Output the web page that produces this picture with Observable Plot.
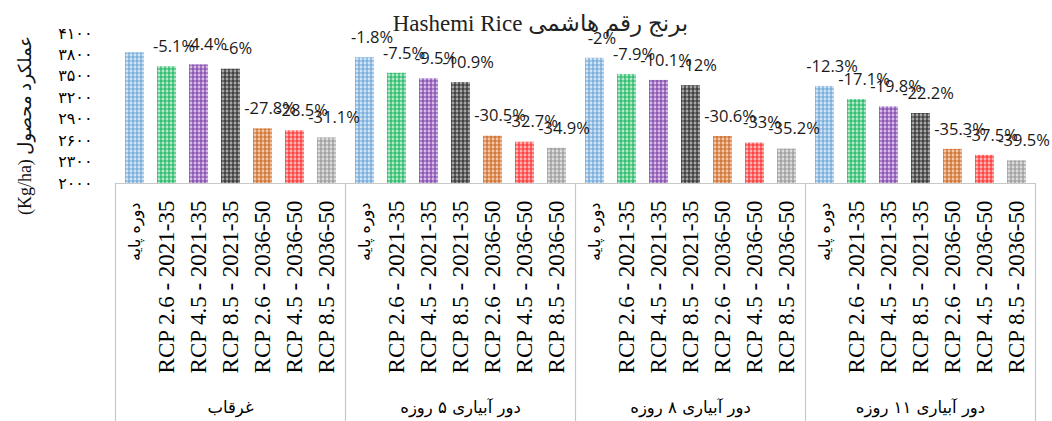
<!DOCTYPE html>
<html>
<head>
<meta charset="utf-8">
<script src="https://cdn.jsdelivr.net/npm/d3@7"></script>
<script src="https://cdn.jsdelivr.net/npm/@observablehq/plot@0.6"></script>
<style>
  html, body { margin: 0; padding: 0; background: #fff; }
  #chart { width: 1052px; height: 421px; overflow: hidden; }
</style>
</head>
<body>
<div id="chart"></div>
<script>
// ---- data ----
const groups = ["غرقاب", "دور آبیاری ۵ روزه", "دور آبیاری ۸ روزه", "دور آبیاری ۱۱ روزه"];
const scenarios = ["دوره پایه", "RCP 2.6 - 2021-35", "RCP 4.5 - 2021-35", "RCP 8.5 - 2021-35",
                   "RCP 2.6 - 2036-50", "RCP 4.5 - 2036-50", "RCP 8.5 - 2036-50"];
const yieldFlood = [3830, 3635, 3661, 3600, 2765, 2738, 2639];
const yield5Day  = [3761, 3543, 3466, 3413, 2662, 2578, 2493];
const yield8Day  = [3753, 3527, 3443, 3370, 2658, 2566, 2482];
const yield11Day = [3359, 3175, 3072, 2980, 2478, 2394, 2317];
const pctFlood = [null, -5.1, -4.4, -6, -27.8, -28.5, -31.1];
const pct5Day  = [-1.8, -7.5, -9.5, -10.9, -30.5, -32.7, -34.9];
const pct8Day  = [-2, -7.9, -10.1, -12, -30.6, -33, -35.2];
const pct11Day = [-12.3, -17.1, -19.8, -22.2, -35.3, -37.5, -39.5];
const yTicks = [2000, 2300, 2600, 2900, 3200, 3500, 3800, 4100];
const yTickLabels = ["۲۰۰۰", "۲۳۰۰", "۲۶۰۰", "۲۹۰۰", "۳۲۰۰", "۳۵۰۰", "۳۸۰۰", "۴۱۰۰"];
const titleText = "Hashemi Rice برنج رقم هاشمی";
const yTitle = "(Kg/ha) عملکرد محصول";

// ---- styles ----
const strokeColors = ["#5b9bd5", "#00b050", "#7030a0", "#1a1a1a", "#c55a11", "#ff1a1a", "#8c8c8c"];
const lightColors  = ["#c3dbf1", "#9fe0bb", "#c9a6e0", "#8a8a8a", "#f1b68e", "#ff9c9c", "#d2d2d2"];

const yieldSets = [yieldFlood, yield5Day, yield8Day, yield11Day];
const pctSets = [pctFlood, pct5Day, pct8Day, pct11Day];
const rows = [];
groups.forEach((g, gi) => {
  scenarios.forEach((s, si) => {
    const p = pctSets[gi][si];
    rows.push({group: g, scenario: s, value: yieldSets[gi][si], si,
               label: p == null ? "" : `${p}%`});
  });
});
const labelRows = rows.filter(d => d.label !== "");

const serif = "'Liberation Serif', 'Times New Roman', 'DejaVu Sans', serif";
const persian = "'DejaVu Sans', sans-serif";

const svg = Plot.plot({
  width: 1052,
  height: 421,
  marginTop: 33,
  marginBottom: 238,
  marginLeft: 115,
  marginRight: 17,
  style: {fontFamily: serif, fontSize: "17px", background: "transparent", color: "#000"},
  fx: {domain: groups, padding: 0, axis: null},
  x: {domain: scenarios, paddingInner: 0.42, paddingOuter: 0.21, axis: null},
  y: {domain: [2000, 4100], axis: null},
  color: {type: "identity"},
  marks: [
    Plot.barY(rows, {fx: "group", x: "scenario", y1: 2000, y2: "value",
                     fill: d => `url(#plaid${d.si})`}),
    Plot.ruleY([2000], {stroke: "#c8c8c8", strokeWidth: 1.2}),
    Plot.text(labelRows, {fx: "group", x: "scenario", y: "value", text: "label",
                          dy: -20, dx: 7, fontSize: 16.5, fill: "#1a1a1a",
                          fontFamily: "'Open Sans', Lato, sans-serif"}),
    Plot.axisY({ticks: yTicks, tickFormat: d => yTickLabels[yTicks.indexOf(d)],
                tickSize: 0, tickPadding: 23, fontSize: 16, label: null,
                fontFamily: persian}),
    Plot.axisX({ticks: scenarios.slice(1), tickRotate: -90, tickSize: 0, tickPadding: 17,
                fontSize: 23, label: null, fontFamily: serif}),
    Plot.axisX({ticks: scenarios.slice(0, 1), tickRotate: -90, tickSize: 0, tickPadding: 19,
                fontSize: 16, label: null, fontFamily: persian}),
    Plot.axisFx({anchor: "bottom", tickSize: 0, tickPadding: 218, fontSize: 16.5, label: null,
                 fontFamily: persian}),
    Plot.axisFx({anchor: "bottom", tickSize: 238, tickFormat: null, dx: -115, label: null,
                 stroke: "#c8c8c8", strokeWidth: 1.2}),
    Plot.axisFx({anchor: "bottom", ticks: [groups[3]], tickSize: 238, tickFormat: null, dx: 115,
                 label: null, stroke: "#c8c8c8", strokeWidth: 1.2}),
    Plot.text([titleText], {facet: "super", frameAnchor: "top", textAnchor: "middle",
                            lineAnchor: "middle", dx: -35, dy: -10,
                            fontSize: 23, fontFamily: serif, fill: "#222"}),
    Plot.text([yTitle], {facet: "super", frameAnchor: "left", textAnchor: "middle",
                         lineAnchor: "middle", rotate: -90, dx: -90, dy: 17,
                         fontSize: 18, fontFamily: serif, fill: "#111"})
  ]
});

// plaid patterns for the bars
let defs = "";
strokeColors.forEach((c, i) => {
  const l = lightColors[i];
  defs += `<pattern id="plaid${i}" width="8" height="8" patternUnits="userSpaceOnUse">
    <rect width="8" height="8" fill="${l}"/>
    <rect x="0" y="0" width="8" height="8" fill="#ffffff" fill-opacity="0.25"/>
    <path d="M0 1H8M0 5H8" stroke="${c}" stroke-width="1.2" stroke-opacity="0.85"/>
    <path d="M1 0V8M5 0V8" stroke="${c}" stroke-width="1.2" stroke-opacity="0.85"/>
  </pattern>`;
});
d3.select(svg).insert("defs", ":first-child").html(defs);

document.getElementById("chart").appendChild(svg);
</script>
</body>
</html>
